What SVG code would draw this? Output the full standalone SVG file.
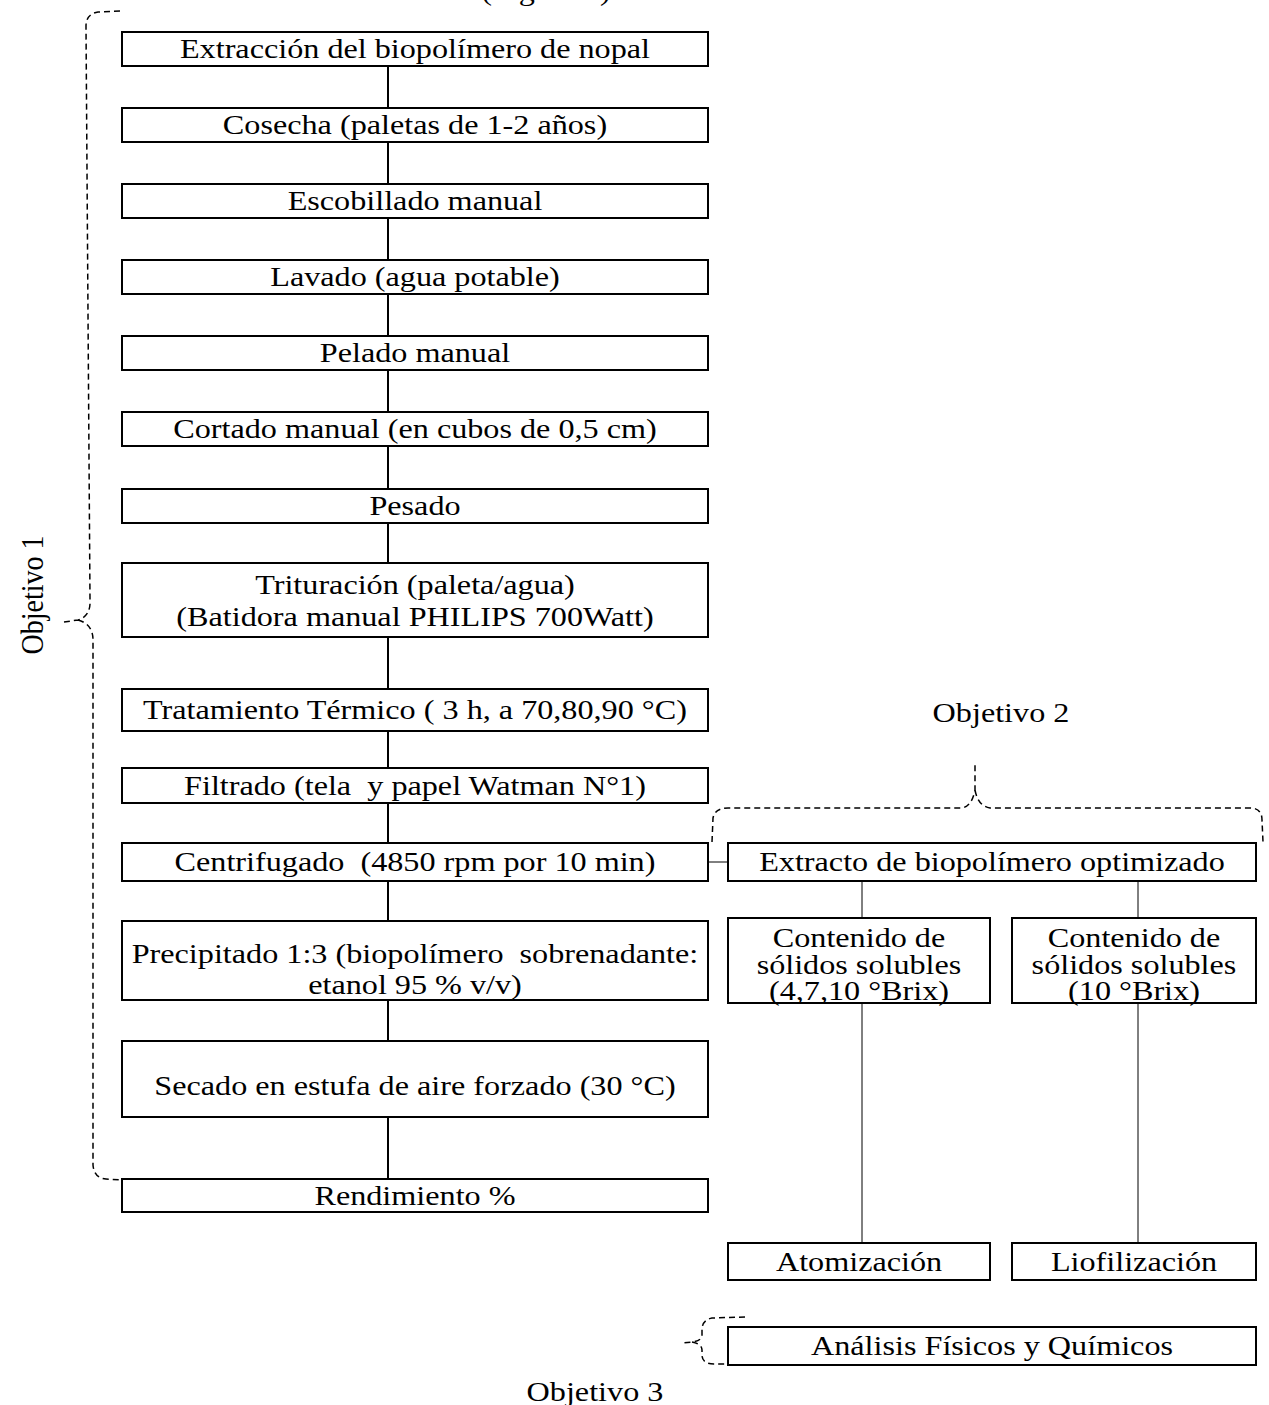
<svg xmlns="http://www.w3.org/2000/svg" width="1269" height="1405" viewBox="0 0 1269 1405">
<style>
text{font-family:"Liberation Serif","Times New Roman",serif;font-size:28px;fill:#000;text-anchor:middle}
.box{fill:#fff;stroke:#000;stroke-width:2}
.conn{stroke:#000;stroke-width:2;fill:none}
.thin{stroke:#000;stroke-width:1;fill:none}
.brace{stroke:#000;stroke-width:1.5;fill:none;stroke-dasharray:6,4}
</style>
<rect width="1269" height="1405" fill="#fff"/>
<text x="474.78" y="0" transform="scale(1.15,1)">(Figura 1)</text>
<g id="connectors">
<line class="conn" x1="388" y1="66" x2="388" y2="108"/>
<line class="conn" x1="388" y1="142" x2="388" y2="184"/>
<line class="conn" x1="388" y1="218" x2="388" y2="260"/>
<line class="conn" x1="388" y1="294" x2="388" y2="336"/>
<line class="conn" x1="388" y1="370" x2="388" y2="412"/>
<line class="conn" x1="388" y1="446" x2="388" y2="489"/>
<line class="conn" x1="388" y1="523" x2="388" y2="563"/>
<line class="conn" x1="388" y1="637" x2="388" y2="689"/>
<line class="conn" x1="388" y1="731" x2="388" y2="768"/>
<line class="conn" x1="388" y1="803" x2="388" y2="843"/>
<line class="conn" x1="388" y1="881" x2="388" y2="921"/>
<line class="conn" x1="388" y1="1000" x2="388" y2="1041"/>
<line class="conn" x1="388" y1="1117" x2="388" y2="1179"/>
<line class="thin" x1="708" y1="862" x2="728" y2="862"/>
<line class="thin" x1="862" y1="881" x2="862" y2="918"/>
<line class="thin" x1="1138" y1="881" x2="1138" y2="918"/>
<line class="thin" x1="862" y1="1003" x2="862" y2="1262"/>
<line class="thin" x1="1138" y1="1003" x2="1138" y2="1262"/>
</g>
<g id="braces">
<path class="brace" d="M120,11 L98,12 Q86,14 86,26 L90,600 Q91,616 78,620 L64,622 M78,620 Q93,624 93,640 L93,1165 Q94,1178 106,1179 L122,1180"/>
<path class="brace" d="M712,842 L713,818 Q715,808 728,808 L962,808 Q972,806 975,790 L975,765 M975,790 Q978,806 990,808 L1250,808 Q1262,808 1262,820 L1263,842"/>
<path class="brace" d="M745,1317 L712,1318 Q702,1320 702,1330 L702,1336 Q701,1341 692,1342 L682,1343 M692,1342 Q702,1344 702,1350 L702,1356 Q703,1364 714,1364 L728,1364"/>
</g>
<text x="0" y="9" transform="translate(33,595) scale(1.15,1) rotate(-90)">Objetivo 1</text>
<text x="870.43" y="722" transform="scale(1.15,1)">Objetivo 2</text>
<text x="517.39" y="1401" transform="scale(1.15,1)">Objetivo 3</text>
<g id="n1"><rect class="box" x="122" y="32" width="586" height="34"/><text x="360.87" y="58" transform="scale(1.15,1)">Extracción del biopolímero de nopal</text></g>
<g id="n2"><rect class="box" x="122" y="108" width="586" height="34"/><text x="360.87" y="134" transform="scale(1.15,1)">Cosecha (paletas de 1-2 años)</text></g>
<g id="n3"><rect class="box" x="122" y="184" width="586" height="34"/><text x="360.87" y="210" transform="scale(1.15,1)">Escobillado manual</text></g>
<g id="n4"><rect class="box" x="122" y="260" width="586" height="34"/><text x="360.87" y="286" transform="scale(1.15,1)">Lavado (agua potable)</text></g>
<g id="n5"><rect class="box" x="122" y="336" width="586" height="34"/><text x="360.87" y="362" transform="scale(1.15,1)">Pelado manual</text></g>
<g id="n6"><rect class="box" x="122" y="412" width="586" height="34"/><text x="360.87" y="438" transform="scale(1.15,1)">Cortado manual (en cubos de 0,5 cm)</text></g>
<g id="n7"><rect class="box" x="122" y="489" width="586" height="34"/><text x="360.87" y="515" transform="scale(1.15,1)">Pesado</text></g>
<g id="n8"><rect class="box" x="122" y="563" width="586" height="74"/><text x="360.87" y="594" transform="scale(1.15,1)">Trituración (paleta/agua)</text><text x="360.87" y="626" transform="scale(1.15,1)">(Batidora manual PHILIPS 700Watt)</text></g>
<g id="n9"><rect class="box" x="122" y="689" width="586" height="42"/><text x="360.87" y="719" transform="scale(1.15,1)">Tratamiento Térmico ( 3 h, a 70,80,90 °C)</text></g>
<g id="n10"><rect class="box" x="122" y="768" width="586" height="35"/><text x="360.87" y="795" transform="scale(1.15,1)" xml:space="preserve">Filtrado (tela  y papel Watman N°1)</text></g>
<g id="n11"><rect class="box" x="122" y="843" width="586" height="38"/><text x="360.87" y="871" transform="scale(1.15,1)" xml:space="preserve">Centrifugado  (4850 rpm por 10 min)</text></g>
<g id="n12"><rect class="box" x="122" y="921" width="586" height="79"/><text x="360.87" y="963" transform="scale(1.15,1)" xml:space="preserve">Precipitado 1:3 (biopolímero  sobrenadante:</text><text x="360.87" y="994" transform="scale(1.15,1)">etanol 95 % v/v)</text></g>
<g id="n13"><rect class="box" x="122" y="1041" width="586" height="76"/><text x="360.87" y="1095" transform="scale(1.15,1)">Secado en estufa de aire forzado (30 °C)</text></g>
<g id="n14"><rect class="box" x="122" y="1179" width="586" height="33"/><text x="360.87" y="1205" transform="scale(1.15,1)">Rendimiento %</text></g>
<g id="n15"><rect class="box" x="728" y="843" width="528" height="38"/><text x="862.61" y="871" transform="scale(1.15,1)">Extracto de biopolímero optimizado</text></g>
<g id="n16"><rect class="box" x="728" y="918" width="262" height="85"/><text x="746.96" y="947" transform="scale(1.15,1)">Contenido de</text><text x="746.96" y="974" transform="scale(1.15,1)">sólidos solubles</text><text x="746.96" y="1000" transform="scale(1.15,1)">(4,7,10 °Brix)</text></g>
<g id="n17"><rect class="box" x="1012" y="918" width="244" height="85"/><text x="986.09" y="947" transform="scale(1.15,1)">Contenido de</text><text x="986.09" y="974" transform="scale(1.15,1)">sólidos solubles</text><text x="986.09" y="1000" transform="scale(1.15,1)">(10 °Brix)</text></g>
<g id="n18"><rect class="box" x="728" y="1243" width="262" height="37"/><text x="746.96" y="1271" transform="scale(1.15,1)">Atomización</text></g>
<g id="n19"><rect class="box" x="1012" y="1243" width="244" height="37"/><text x="986.09" y="1271" transform="scale(1.15,1)">Liofilización</text></g>
<g id="n20"><rect class="box" x="728" y="1327" width="528" height="38"/><text x="862.61" y="1355" transform="scale(1.15,1)">Análisis Físicos y Químicos</text></g>
</svg>
